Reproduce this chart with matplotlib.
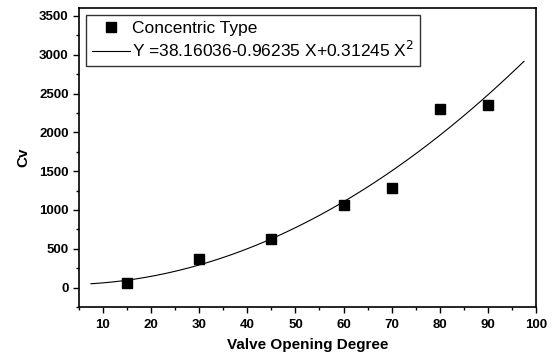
import numpy as np
import matplotlib.pyplot as plt
from matplotlib.ticker import MultipleLocator

plt.rcParams['font.family'] = ['Liberation Sans', 'DejaVu Sans']

# Measured data
opening = [15, 30, 45, 60, 70, 80, 90]
cv = [52, 373, 630, 1067, 1285, 2300, 2352]

# Quadratic fit from the legend
a0, a1, a2 = 38.16036, -0.96235, 0.31245
fit_x = np.linspace(7.5, 97.5, 200)
fit_y = a0 + a1 * fit_x + a2 * fit_x ** 2

fig = plt.figure(figsize=(5.52, 3.54), dpi=100)
ax = fig.add_axes([0.143, 0.133, 0.828, 0.844])

ax.plot(opening, cv, 's', color='black', markersize=7, label='Concentric Type')
ax.plot(fit_x, fit_y, '-', color='black', linewidth=0.8,
        label='Y =38.16036-0.96235 X+0.31245 X$^2$')

ax.set_xlim(5, 100)
ax.set_ylim(-250, 3600)
ax.xaxis.set_major_locator(MultipleLocator(10))
ax.xaxis.set_minor_locator(MultipleLocator(5))
ax.yaxis.set_major_locator(MultipleLocator(500))
ax.yaxis.set_minor_locator(MultipleLocator(250))
ax.tick_params(which='major', direction='out', length=4, width=1, labelsize=9.5)
ax.tick_params(axis='x', which='major', pad=5)
ax.tick_params(which='minor', direction='out', length=2, width=1)
for lab in ax.get_xticklabels() + ax.get_yticklabels():
    lab.set_fontweight('bold')
for s in ax.spines.values():
    s.set_linewidth(1.2)

ax.set_xlabel('Valve Opening Degree', fontsize=11, fontweight='bold', labelpad=5)
ax.set_ylabel('Cv', fontsize=11, fontweight='bold', labelpad=6)

leg = ax.legend(loc='upper left', fontsize=12.5, frameon=True, fancybox=False,
                edgecolor='black', handlelength=2.2, handletextpad=0.1,
                borderaxespad=0.4, borderpad=0.35, labelspacing=0.2,
                bbox_to_anchor=(0.0, 1.0))
leg.get_frame().set_linewidth(1)

fig.savefig('out.png', dpi=100)
